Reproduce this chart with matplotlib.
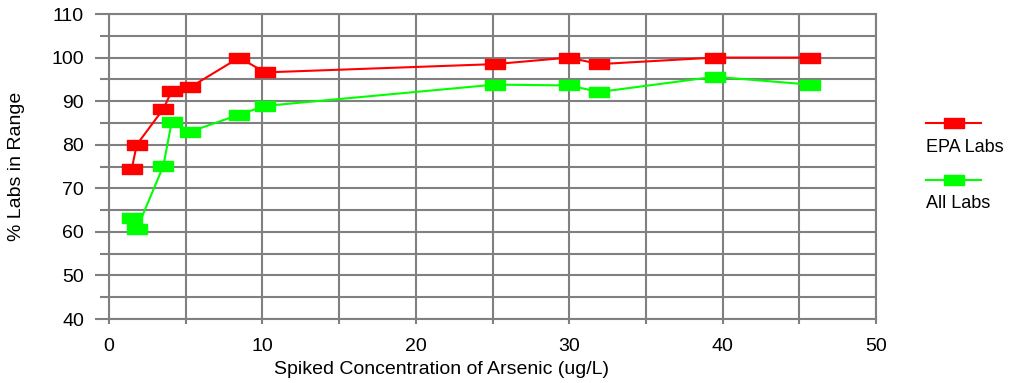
import matplotlib
matplotlib.use("Agg")
import matplotlib.pyplot as plt
from matplotlib.path import Path
from matplotlib.lines import Line2D
import numpy as np

plt.rcParams['font.family'] = ['Liberation Sans', 'DejaVu Sans']

epa_x = [1.48, 1.81, 3.54, 4.09, 5.30, 8.49, 10.17, 25.16, 29.99, 31.96, 39.48, 45.68]
epa_y = [74.4, 80.0, 88.2, 92.3, 93.2, 100.0, 96.6, 98.5, 100.0, 98.5, 100.0, 100.0]
all_x = [1.48, 1.81, 3.54, 4.09, 5.30, 8.49, 10.17, 25.16, 29.99, 31.96, 39.48, 45.68]
all_y = [63.1, 60.6, 75.1, 85.3, 83.0, 86.9, 88.9, 93.8, 93.6, 92.1, 95.6, 93.8]
x_ticks = [0, 10, 20, 30, 40, 50]
y_ticks = [40, 50, 60, 70, 80, 90, 100, 110]
series_names = ["EPA Labs", "All Labs"]
series_colors = ["#ff0000", "#00ff00"]

rect = Path([(-1, -0.5), (1, -0.5), (1, 0.5), (-1, 0.5), (-1, -0.5)],
            [Path.MOVETO, Path.LINETO, Path.LINETO, Path.LINETO, Path.CLOSEPOLY])

W, H = 1009, 383
fig = plt.figure(figsize=(W / 100, H / 100), dpi=100)
ax = fig.add_axes([109 / W, 1 - 319 / H, (876 - 109) / W, (319 - 14) / H])

grid_c = "#808080"
FS = 14
ax.set_xlim(0, 50)
ax.set_ylim(40, 110)
ax.set_xticks(x_ticks)
ax.set_yticks(y_ticks)
ax.set_xticks(np.arange(0, 51, 5), minor=True)
ax.set_yticks(np.arange(40, 111, 5), minor=True)
ax.grid(True, which='both', color=grid_c, linewidth=1.5)
ax.set_axisbelow(True)
for s in ax.spines.values():
    s.set_color(grid_c)
    s.set_linewidth(1.5)
ax.tick_params(axis='both', which='both', color=grid_c, width=1.5, labelsize=FS,
               labelcolor='black')
ax.tick_params(axis='y', which='major', length=10, pad=8)
ax.tick_params(axis='y', which='minor', length=6.5)
ax.tick_params(axis='x', which='both', length=3.5, pad=10)

for xs, ys, c in [(epa_x, epa_y, series_colors[0]), (all_x, all_y, series_colors[1])]:
    ax.plot(xs, ys, color=c, linewidth=1.5, marker=rect, markersize=15,
            markerfacecolor=c, markeredgecolor=c, clip_on=False, zorder=3)

fig.text(441 / W, 1 - 370 / H, "Spiked Concentration of Arsenic (ug/L)",
         fontsize=FS, ha='center', va='center')
fig.text(17 / W, 1 - 166 / H, "% Labs in Range", fontsize=FS, rotation=90,
         ha='center', va='center')

# legend
for i, (name, c) in enumerate(zip(series_names, series_colors)):
    ly = 1 - (123 + i * 57) / H
    fig.add_artist(Line2D([926 / W, 981 / W], [ly, ly], color=c, linewidth=1.5,
                          transform=fig.transFigure))
    fig.add_artist(Line2D([953.5 / W], [ly], color=c, marker=rect, markersize=15,
                          markerfacecolor=c, markeredgecolor=c, transform=fig.transFigure))
    fig.text(926 / W, 1 - (147 + i * 57) / H, name, fontsize=13, va='center', ha='left')

fig.savefig("out.png", dpi=100)
